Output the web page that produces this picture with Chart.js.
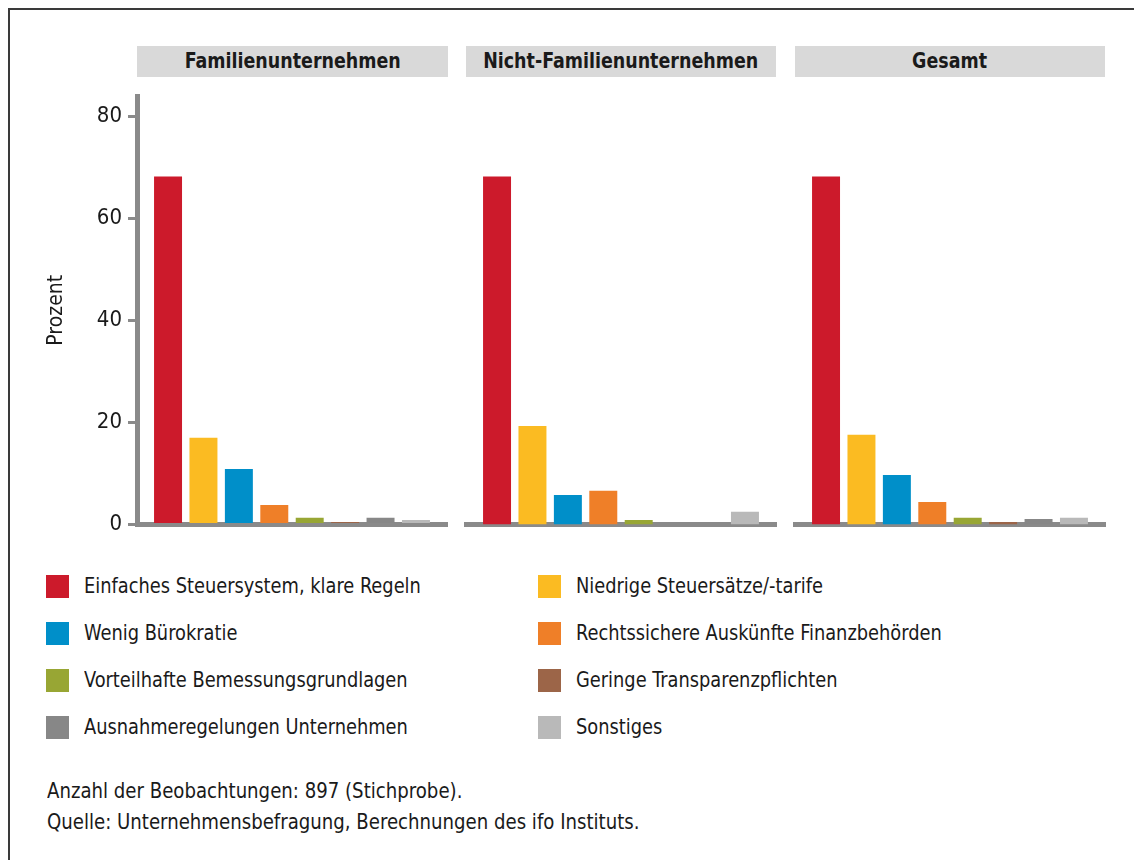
<!DOCTYPE html>
<html>
<head>
<meta charset="utf-8">
<script src="https://cdn.jsdelivr.net/npm/chart.js@4/dist/chart.umd.min.js"></script>
<style>
  html, body { margin: 0; padding: 0; background: #fff; }
  body { width: 1134px; height: 860px; position: relative; overflow: hidden;
         font-family: "Liberation Sans Narrow", "DejaVu Sans Condensed", Roboto, sans-serif; color: #1a1a1a; }
  #frame { position: absolute; left: 8px; top: 8px; right: -10px; bottom: -10px;
           border-left: 2px solid #3a3a3a; border-top: 2px solid #3a3a3a; }
  .cv { position: absolute; }
  .hdr { position: absolute; top: 46px; height: 31px; background: #d9d9d9; text-align: center;
         font-weight: bold; font-size: 21px; line-height: 31px; }
  .hdr span { display: inline-block; transform: scaleX(0.925); transform-origin: center; }
  .leg { position: absolute; font-size: 22px; line-height: 23px; white-space: nowrap; }
  .leg span.sw { position: absolute; left: 0; top: 0; width: 23px; height: 23px; }
  .leg span.tx { position: absolute; left: 38px; top: -1px; transform: scaleX(0.9); transform-origin: left center; }
  .note { position: absolute; left: 47px; font-size: 21px; white-space: nowrap; transform: scaleX(0.96); transform-origin: left center; }
</style>
</head>
<body>
<div id="frame"></div>
<div class="hdr" style="left:137px;width:311px;"><span id="h0"></span></div>
<div class="hdr" style="left:466px;width:310px;"><span id="h1"></span></div>
<div class="hdr" style="left:795px;width:310px;"><span id="h2"></span></div>
<canvas id="c0" class="cv" style="left:30px;top:90px;" width="422" height="445"></canvas>
<canvas id="c1" class="cv" style="left:456px;top:90px;" width="330" height="445"></canvas>
<canvas id="c2" class="cv" style="left:785px;top:90px;" width="330" height="445"></canvas>
<div id="legend"></div>
<div class="note" style="top:779px;">Anzahl der Beobachtungen: 897 (Stichprobe).</div>
<div class="note" style="top:810px;">Quelle: Unternehmensbefragung, Berechnungen des ifo Instituts.</div>
<script>
const panels = ["Familienunternehmen", "Nicht-Familienunternehmen", "Gesamt"];
const categories = [
  "Einfaches Steuersystem, klare Regeln",
  "Niedrige Steuersätze/-tarife",
  "Wenig Bürokratie",
  "Rechtssichere Auskünfte Finanzbehörden",
  "Vorteilhafte Bemessungsgrundlagen",
  "Geringe Transparenzpflichten",
  "Ausnahmeregelungen Unternehmen",
  "Sonstiges"
];
const colors = ["#cc1a2b", "#fbbb22", "#008fc9", "#ef7f28", "#98a634", "#9c6548", "#878787", "#b9b9b9"];
const familien      = [68.2, 17.0, 10.9, 3.8, 1.3, 0.5, 1.3, 0.9];
const nichtFamilien = [68.2, 19.3, 5.8, 6.6, 0.9, 0.0, 0.0, 2.5];
const gesamt        = [68.2, 17.6, 9.7, 4.4, 1.3, 0.5, 1.1, 1.3];
const yTicks = [0, 20, 40, 60, 80];
const yMax = 84;
const yTitle = "Prozent";
const seriesByPanel = [familien, nichtFamilien, gesamt];

const FONT = '"Liberation Sans Narrow", "DejaVu Sans Condensed", Roboto, sans-serif';
const AXIS = "#8a8a8a";

panels.forEach((p, i) => { document.getElementById("h" + i).textContent = p; });

// legend: two columns, row-major order
const legendDiv = document.getElementById("legend");
categories.forEach((c, k) => {
  const col = k % 2, row = Math.floor(k / 2);
  const d = document.createElement("div");
  d.className = "leg";
  d.style.left = (col === 0 ? 46 : 538) + "px";
  d.style.top = (575 + row * 47) + "px";
  d.innerHTML = '<span class="sw" style="background:' + colors[k] + '"></span><span class="tx"></span>';
  d.querySelector(".tx").textContent = c;
  legendDiv.appendChild(d);
});

function makeChart(idx) {
  const first = idx === 0;
  const data = {
    labels: [panels[idx]],
    datasets: categories.map((c, k) => ({
      label: c,
      data: [seriesByPanel[idx][k]],
      backgroundColor: colors[k],
      borderWidth: 0,
      categoryPercentage: 0.914,
      barPercentage: 0.79
    }))
  };
  return new Chart(document.getElementById("c" + idx), {
    type: "bar",
    data,
    options: {
      responsive: false,
      animation: false,
      layout: { padding: { left: first ? 0 : 10, right: first ? 5 : 10, top: 6, bottom: 7.5 } },
      plugins: { legend: { display: false }, tooltip: { enabled: false } },
      scales: {
        x: {
          z: 1,
          grid: { display: false },
          ticks: { display: false },
          border: { display: true, color: AXIS, width: 5 },
          afterFit: s => { s.height = 3; s.paddingLeft = 0; s.paddingRight = 0; }
        },
        y: {
          display: first,
          min: 0,
          max: yMax,
          afterBuildTicks: s => { s.ticks = yTicks.map(v => ({ value: v })); },
          afterFit: s => { if (first) s.width = 107; s.paddingTop = 0; s.paddingBottom = 0; },
          grid: { drawOnChartArea: false, drawTicks: true, tickLength: 9, lineWidth: 3, color: AXIS },
          border: { display: true, color: AXIS, width: 5 },
          ticks: { color: "#1a1a1a", padding: 6, font: { family: FONT, size: 22 } },
          title: { display: first, text: yTitle, color: "#1a1a1a", padding: { top: 14, bottom: 0 },
                   font: { family: FONT, size: 21 } }
        }
      }
    }
  });
}
[0, 1, 2].forEach(makeChart);
</script>
</body>
</html>
